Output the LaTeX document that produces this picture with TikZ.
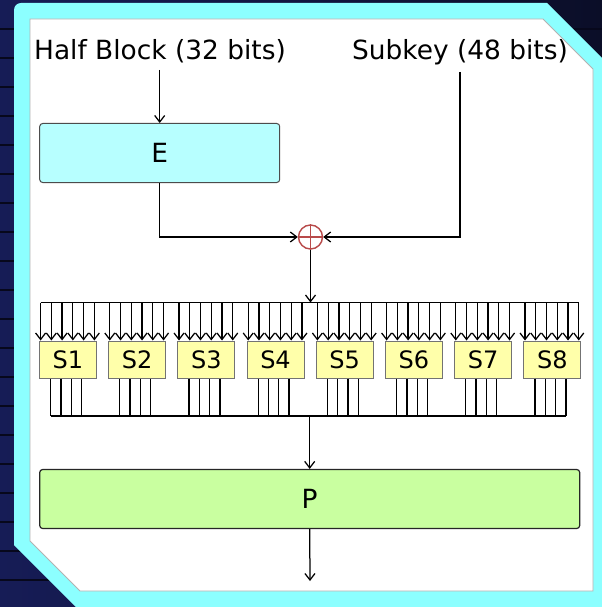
\documentclass[tikz,border=0pt]{standalone}
\usepackage{fontspec}
\setmainfont{DejaVu Sans}
\usetikzlibrary{arrows.meta,calc}
\definecolor{navyA}{HTML}{161C56}
\definecolor{navyB}{HTML}{0B0E28}
\definecolor{stripeC}{HTML}{07081C}
\definecolor{frameC}{HTML}{8CFFFF}
\definecolor{eFill}{HTML}{B7FFFF}
\definecolor{sFill}{HTML}{FFFFAA}
\definecolor{pFill}{HTML}{C9FFA0}
\definecolor{xorC}{HTML}{B84A4A}
\begin{document}
\begin{tikzpicture}[x=1bp,y=-1bp,
  big/.style={font=\fontsize{26.4bp}{30bp}\selectfont},
  lbl/.style={big, inner sep=0pt, anchor=base},
  arr/.style={-{Straight Barb[length=6.5bp,width=10bp]}, line width=1.25bp},
  wire/.style={line width=1.25bp},
  ebox/.style={big, draw=black!70, fill=eFill, rounded corners=3bp, line width=1bp,
    minimum width=240bp, minimum height=59bp, inner sep=0pt},
  pbox/.style={big, draw=black!85, fill=pFill, rounded corners=3bp, line width=1.2bp,
    minimum width=540bp, minimum height=59bp, inner sep=0pt},
  sbox/.style={font=\fontsize{24bp}{28bp}\selectfont, draw=black!55, fill=sFill, line width=1bp,
    minimum width=57bp, minimum height=37bp, inner sep=0pt},
  xorn/.style={circle, draw=xorC, line width=1.4bp, minimum size=24bp, inner sep=0pt}]
\useasboundingbox (0,0) rectangle (602,607);
% background
\begin{scope}
\clip (0,0) rectangle (602,607);
\fill[left color=navyA, right color=navyB] (0,0) rectangle (602,607);
\foreach \k in {1,...,20} \fill[stripeC] (0,29*\k-1.1) rectangle (602,29*\k+1.1);
\fill[frameC] (14,300) [rounded corners=7bp] -- (14,3) -- (300,3) [sharp corners] -- (547,3) -- (610,66) -- (610,612) -- (81,612) -- (14,545) -- cycle;
\fill[white, draw=black!30, line width=0.8bp] (30,19) -- (543,19) -- (593,69) -- (593,591) -- (80,591) -- (30,541) -- cycle;
\end{scope}
% labels
\node[lbl] (hb) at (160,59.3) {Half Block (32 bits)};
\node[lbl] (sk) at (460,59.3) {Subkey (48 bits)};
% boxes
\node[ebox] (e) at (159.7,153) {E};
\node[xorn] (xor) at (310.5,237) {};
\draw[xorC, line width=1.4bp] (xor.north) -- (xor.south) (xor.west) -- (xor.east);
\foreach \i in {1,...,8} {
  \node[sbox] (s\i) at ({67.9+(\i-1)*69.2},359.5) {S\i};
  \foreach \k in {1,...,6}
    \coordinate (in\i-\k) at ($(s\i.north west)+({1.7+(\k-1)*10.75},-38)$);
  \foreach \k in {1,...,4}
    \coordinate (out\i-\k) at ($(s\i.south west)+({11.7+(\k-1)*10.3},37.5)$);
}
\node[pbox] (p) at (309.7,499) {P};
\coordinate (fout) at (310,581);
% connectors
\draw[arr, shorten <=7bp] (e.north |- hb.south) -- (e.north);
\draw[arr] (e.south) |- (xor.west);
\draw[arr, shorten <=7bp] (sk.south) |- (xor.east);
\draw[wire] (in1-1) -- (in8-6);
\draw[arr] (xor.south) -- (xor.south |- in1-1);
\foreach \i in {1,...,8} {
  \foreach \k in {1,...,6}
    \draw[arr] (in\i-\k) -- (in\i-\k |- s\i.north);
  \foreach \k in {1,...,4}
    \draw[wire] (out\i-\k |- s\i.south) -- (out\i-\k);
}
\draw[wire] (out1-1) -- (out8-4);
\draw[arr] (p.north |- out1-1) -- (p.north);
\draw[arr] (p.south) -- (fout);
\end{tikzpicture}
\end{document}
